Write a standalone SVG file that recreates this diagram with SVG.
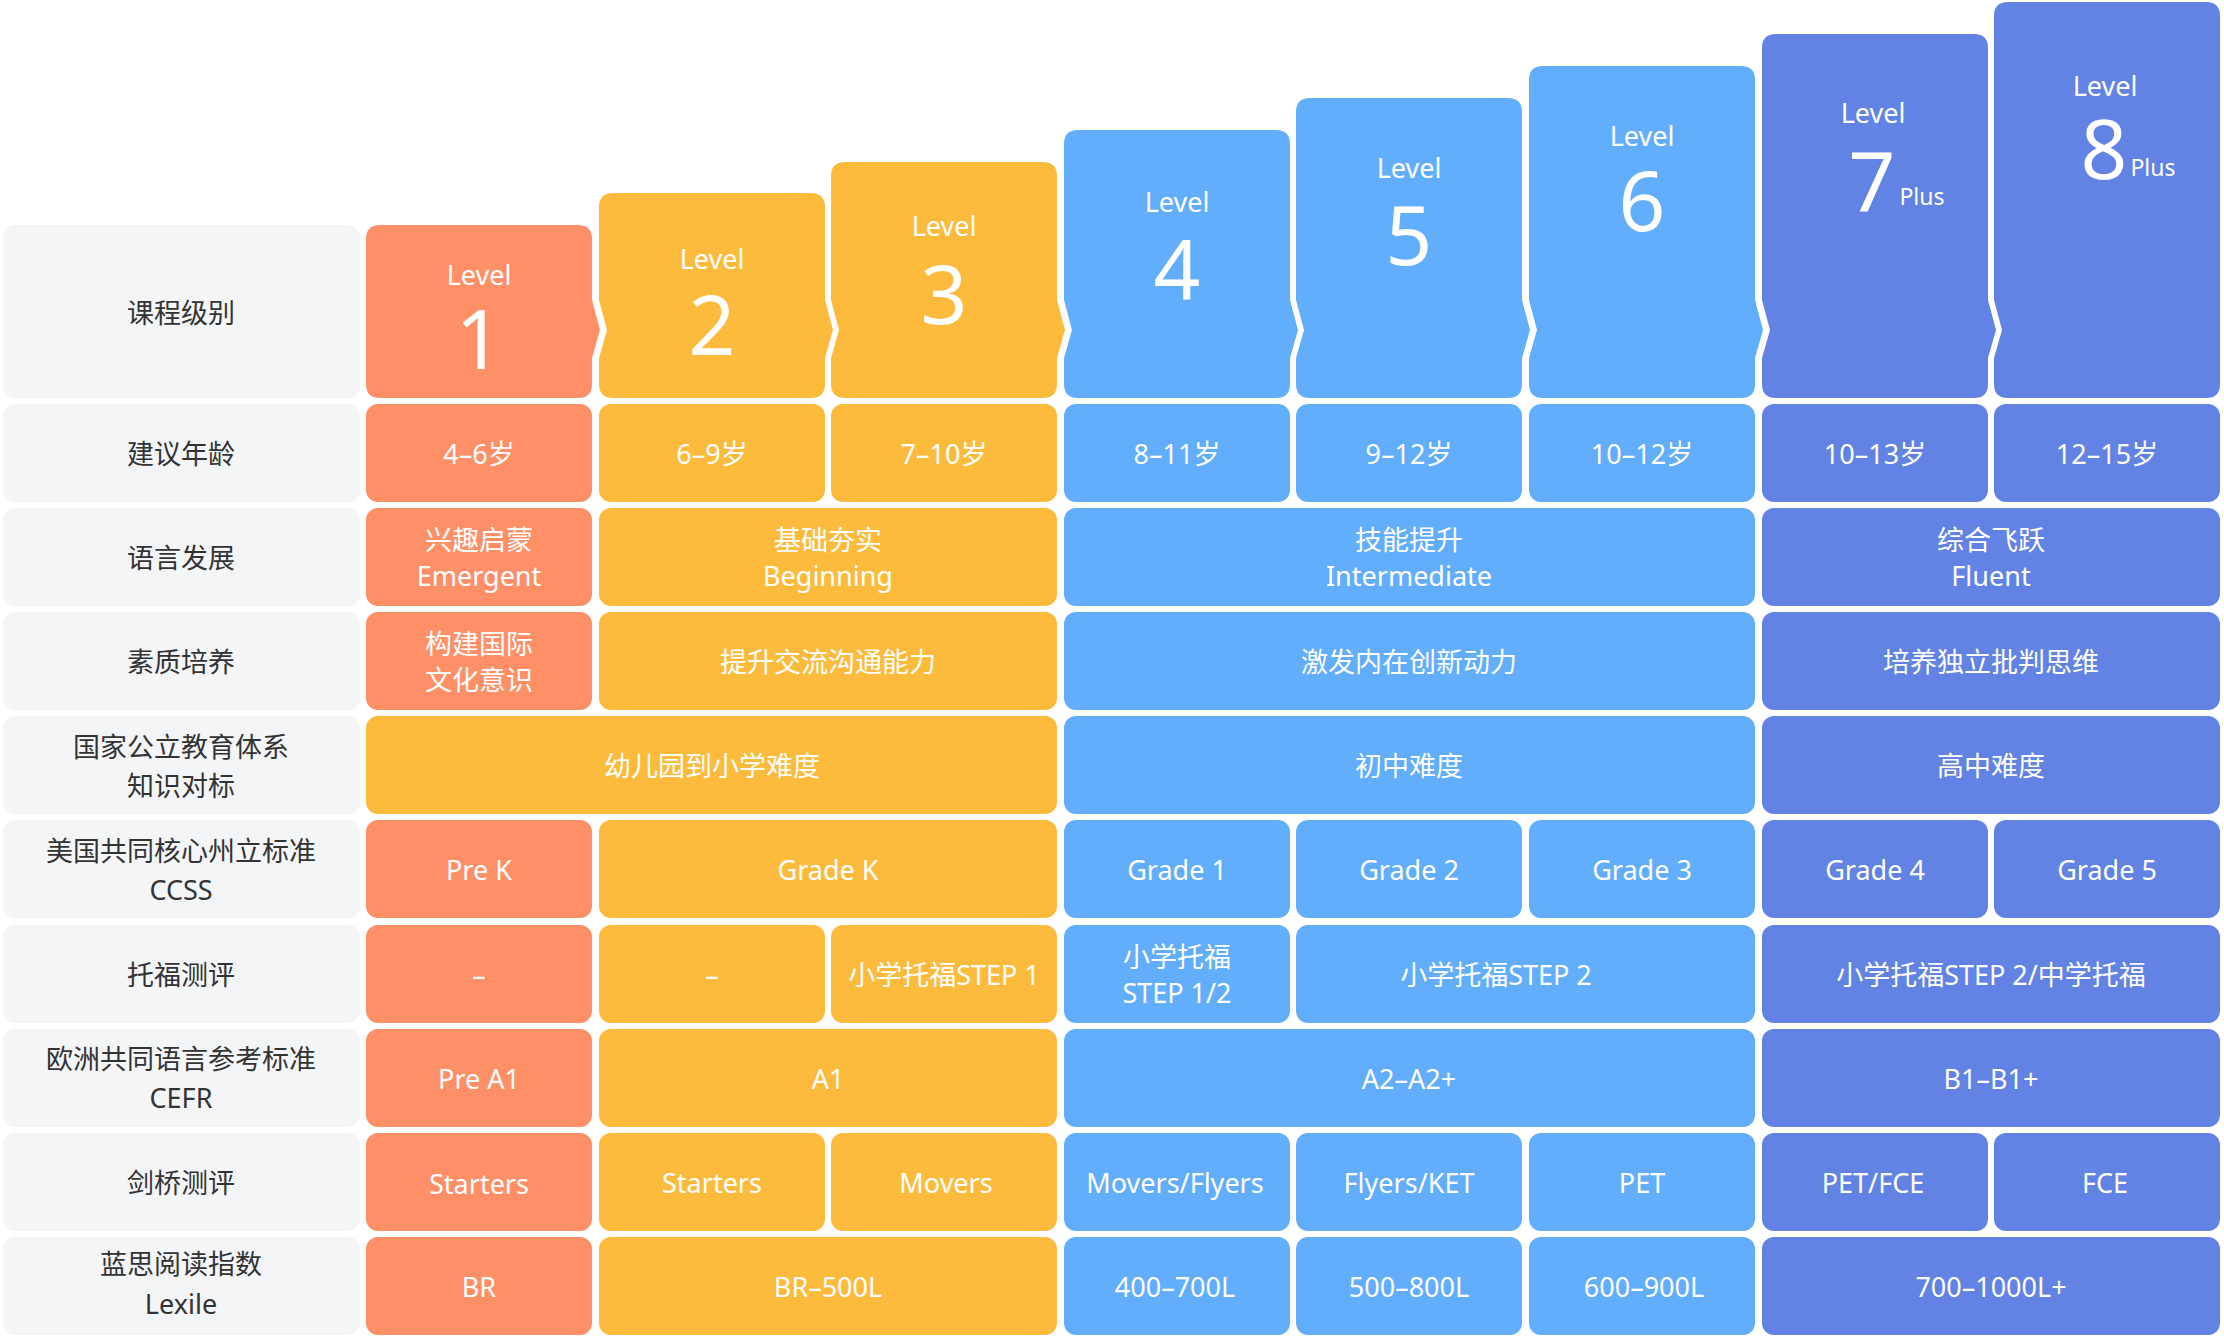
<svg xmlns="http://www.w3.org/2000/svg" width="2224" height="1338" viewBox="0 0 2224 1338">
<style>
text{font-family:"Noto Sans","Noto Sans CJK SC",sans-serif;text-anchor:middle;dominant-baseline:central;fill:#fff;font-size:27px}
.lb{fill:#333}
.o{fill:#FF8F66}.y{fill:#FDBB3E}.b{fill:#62AEFD}.d{fill:#6283E3}.g{fill:#F4F5F7}
.lv{font-size:27px}.n{font-size:82px}.p{font-size:23px}
</style>
<rect width="2224" height="1338" fill="#fff"/>
<g id="labels">
<rect class="g" x="3" y="225" width="357" height="173" rx="12"/>
<text class="lb" x="181" y="312">课程级别</text>
<rect class="g" x="3" y="404" width="357" height="98" rx="12"/><text class="lb" x="181" y="453">建议年龄</text>
<rect class="g" x="3" y="508" width="357" height="98" rx="12"/><text class="lb" x="181" y="557">语言发展</text>
<rect class="g" x="3" y="612" width="357" height="98" rx="12"/><text class="lb" x="181" y="661">素质培养</text>
<rect class="g" x="3" y="716" width="357" height="98" rx="12"/><text class="lb" x="181" y="746">国家公立教育体系</text><text class="lb" x="181" y="785">知识对标</text>
<rect class="g" x="3" y="820" width="357" height="98" rx="12"/><text class="lb" x="181" y="850">美国共同核心州立标准</text><text class="lb" x="181" y="889">CCSS</text>
<rect class="g" x="3" y="925" width="357" height="98" rx="12"/><text class="lb" x="181" y="974">托福测评</text>
<rect class="g" x="3" y="1029" width="357" height="98" rx="12"/><text class="lb" x="181" y="1058">欧洲共同语言参考标准</text><text class="lb" x="181" y="1097">CEFR</text>
<rect class="g" x="3" y="1133" width="357" height="98" rx="12"/><text class="lb" x="181" y="1182">剑桥测评</text>
<rect class="g" x="3" y="1237" width="357" height="98" rx="12"/><text class="lb" x="181" y="1263">蓝思阅读指数</text><text class="lb" x="181" y="1303">Lexile</text>
</g>
<g id="headers">
<g id="L1"><path class="o" d="M380,225 H578 Q592,225 592,239 V300 L600,330 L592,358 V384 Q592,398 578,398 H380 Q366,398 366,384 V239 Q366,225 380,225 Z"/><text x="479" y="274">Level</text><text class="n" x="479" y="337">1</text></g>
<g id="L2"><path class="y" d="M613,193 H811 Q825,193 825,207 V300 L833,330 L825,358 V384 Q825,398 811,398 H613 Q599,398 599,384 V358 L607,330 L599,300 V207 Q599,193 613,193 Z"/><text x="712" y="258">Level</text><text class="n" x="712" y="323">2</text></g>
<g id="L3"><path class="y" d="M845,162 H1043 Q1057,162 1057,176 V300 L1065,330 L1057,358 V384 Q1057,398 1043,398 H845 Q831,398 831,384 V358 L839,330 L831,300 V176 Q831,162 845,162 Z"/><text x="944" y="225">Level</text><text class="n" x="944" y="292">3</text></g>
<g id="L4"><path class="b" d="M1078,130 H1276 Q1290,130 1290,144 V300 L1298,330 L1290,358 V384 Q1290,398 1276,398 H1078 Q1064,398 1064,384 V358 L1072,330 L1064,300 V144 Q1064,130 1078,130 Z"/><text x="1177" y="201">Level</text><text class="n" x="1177" y="267">4</text></g>
<g id="L5"><path class="b" d="M1310,98 H1508 Q1522,98 1522,112 V300 L1530,330 L1522,358 V384 Q1522,398 1508,398 H1310 Q1296,398 1296,384 V358 L1304,330 L1296,300 V112 Q1296,98 1310,98 Z"/><text x="1409" y="167">Level</text><text class="n" x="1409" y="233">5</text></g>
<g id="L6"><path class="b" d="M1543,66 H1741 Q1755,66 1755,80 V300 L1763,330 L1755,358 V384 Q1755,398 1741,398 H1543 Q1529,398 1529,384 V358 L1537,330 L1529,300 V80 Q1529,66 1543,66 Z"/><text x="1642" y="135">Level</text><text class="n" x="1642" y="199">6</text></g>
<g id="L7"><path class="d" d="M1776,34 H1974 Q1988,34 1988,48 V300 L1996,330 L1988,358 V384 Q1988,398 1974,398 H1776 Q1762,398 1762,384 V358 L1770,330 L1762,300 V48 Q1762,34 1776,34 Z"/><text x="1873" y="112">Level</text><text class="n" x="1872" y="179">7</text><text class="p" x="1922" y="196">Plus</text></g>
<g id="L8"><path class="d" d="M2008,2 H2206 Q2220,2 2220,16 V384 Q2220,398 2206,398 H2008 Q1994,398 1994,384 V358 L2002,330 L1994,300 V16 Q1994,2 2008,2 Z"/><text x="2105" y="85">Level</text><text class="n" x="2104" y="147">8</text><text class="p" x="2153" y="167">Plus</text></g>
</g>
<g id="row-age">
<rect class="o" x="366" y="404" width="226" height="98" rx="12"/><text x="479" y="453">4–6岁</text>
<rect class="y" x="599" y="404" width="226" height="98" rx="12"/><text x="712" y="453">6–9岁</text>
<rect class="y" x="831" y="404" width="226" height="98" rx="12"/><text x="944" y="453">7–10岁</text>
<rect class="b" x="1064" y="404" width="226" height="98" rx="12"/><text x="1177" y="453">8–11岁</text>
<rect class="b" x="1296" y="404" width="226" height="98" rx="12"/><text x="1409" y="453">9–12岁</text>
<rect class="b" x="1529" y="404" width="226" height="98" rx="12"/><text x="1642" y="453">10–12岁</text>
<rect class="d" x="1762" y="404" width="226" height="98" rx="12"/><text x="1875" y="453">10–13岁</text>
<rect class="d" x="1994" y="404" width="226" height="98" rx="12"/><text x="2107" y="453">12–15岁</text>
</g>
<g id="row-lang">
<rect class="o" x="366" y="508" width="226" height="98" rx="12"/><text x="479" y="539">兴趣启蒙</text><text x="479" y="575">Emergent</text>
<rect class="y" x="599" y="508" width="458" height="98" rx="12"/><text x="828" y="539">基础夯实</text><text x="828" y="575">Beginning</text>
<rect class="b" x="1064" y="508" width="691" height="98" rx="12"/><text x="1409" y="539">技能提升</text><text x="1409" y="575">Intermediate</text>
<rect class="d" x="1762" y="508" width="458" height="98" rx="12"/><text x="1991" y="539">综合飞跃</text><text x="1991" y="575">Fluent</text>
</g>
<g id="row-quality">
<rect class="o" x="366" y="612" width="226" height="98" rx="12"/><text x="479" y="643">构建国际</text><text x="479" y="679">文化意识</text>
<rect class="y" x="599" y="612" width="458" height="98" rx="12"/><text x="828" y="661">提升交流沟通能力</text>
<rect class="b" x="1064" y="612" width="691" height="98" rx="12"/><text x="1409" y="661">激发内在创新动力</text>
<rect class="d" x="1762" y="612" width="458" height="98" rx="12"/><text x="1991" y="661">培养独立批判思维</text>
</g>
<g id="row-national">
<rect class="y" x="366" y="716" width="691" height="98" rx="12"/><text x="712" y="765">幼儿园到小学难度</text>
<rect class="b" x="1064" y="716" width="691" height="98" rx="12"/><text x="1409" y="765">初中难度</text>
<rect class="d" x="1762" y="716" width="458" height="98" rx="12"/><text x="1991" y="765">高中难度</text>
</g>
<g id="row-ccss">
<rect class="o" x="366" y="820" width="226" height="98" rx="12"/><text x="479" y="869">Pre K</text>
<rect class="y" x="599" y="820" width="458" height="98" rx="12"/><text x="828" y="869">Grade K</text>
<rect class="b" x="1064" y="820" width="226" height="98" rx="12"/><text x="1177" y="869">Grade 1</text>
<rect class="b" x="1296" y="820" width="226" height="98" rx="12"/><text x="1409" y="869">Grade 2</text>
<rect class="b" x="1529" y="820" width="226" height="98" rx="12"/><text x="1642" y="869">Grade 3</text>
<rect class="d" x="1762" y="820" width="226" height="98" rx="12"/><text x="1875" y="869">Grade 4</text>
<rect class="d" x="1994" y="820" width="226" height="98" rx="12"/><text x="2107" y="869">Grade 5</text>
</g>
<g id="row-toefl">
<rect class="o" x="366" y="925" width="226" height="98" rx="12"/><text x="479" y="974">–</text>
<rect class="y" x="599" y="925" width="226" height="98" rx="12"/><text x="712" y="974">–</text>
<rect class="y" x="831" y="925" width="226" height="98" rx="12"/><text x="944" y="974">小学托福STEP 1</text>
<rect class="b" x="1064" y="925" width="226" height="98" rx="12"/><text x="1177" y="956">小学托福</text><text x="1177" y="992">STEP 1/2</text>
<rect class="b" x="1296" y="925" width="459" height="98" rx="12"/><text x="1496" y="974">小学托福STEP 2</text>
<rect class="d" x="1762" y="925" width="458" height="98" rx="12"/><text x="1991" y="974">小学托福STEP 2/中学托福</text>
</g>
<g id="row-cefr">
<rect class="o" x="366" y="1029" width="226" height="98" rx="12"/><text x="479" y="1078">Pre A1</text>
<rect class="y" x="599" y="1029" width="458" height="98" rx="12"/><text x="828" y="1078">A1</text>
<rect class="b" x="1064" y="1029" width="691" height="98" rx="12"/><text x="1409" y="1078">A2–A2+</text>
<rect class="d" x="1762" y="1029" width="458" height="98" rx="12"/><text x="1991" y="1078">B1–B1+</text>
</g>
<g id="row-cambridge">
<rect class="o" x="366" y="1133" width="226" height="98" rx="12"/><text x="479" y="1183">Starters</text>
<rect class="y" x="599" y="1133" width="226" height="98" rx="12"/><text x="712" y="1182">Starters</text>
<rect class="y" x="831" y="1133" width="226" height="98" rx="12"/><text x="946" y="1182">Movers</text>
<rect class="b" x="1064" y="1133" width="226" height="98" rx="12"/><text x="1175" y="1182">Movers/Flyers</text>
<rect class="b" x="1296" y="1133" width="226" height="98" rx="12"/><text x="1409" y="1182">Flyers/KET</text>
<rect class="b" x="1529" y="1133" width="226" height="98" rx="12"/><text x="1642" y="1182">PET</text>
<rect class="d" x="1762" y="1133" width="226" height="98" rx="12"/><text x="1873" y="1182">PET/FCE</text>
<rect class="d" x="1994" y="1133" width="226" height="98" rx="12"/><text x="2105" y="1182">FCE</text>
</g>
<g id="row-lexile">
<rect class="o" x="366" y="1237" width="226" height="98" rx="12"/><text x="479" y="1286">BR</text>
<rect class="y" x="599" y="1237" width="458" height="98" rx="12"/><text x="828" y="1286">BR–500L</text>
<rect class="b" x="1064" y="1237" width="226" height="98" rx="12"/><text x="1175" y="1286">400–700L</text>
<rect class="b" x="1296" y="1237" width="226" height="98" rx="12"/><text x="1409" y="1286">500–800L</text>
<rect class="b" x="1529" y="1237" width="226" height="98" rx="12"/><text x="1644" y="1286">600–900L</text>
<rect class="d" x="1762" y="1237" width="458" height="98" rx="12"/><text x="1991" y="1286">700–1000L+</text>
</g>
<g id="connectors"/>
</svg>
